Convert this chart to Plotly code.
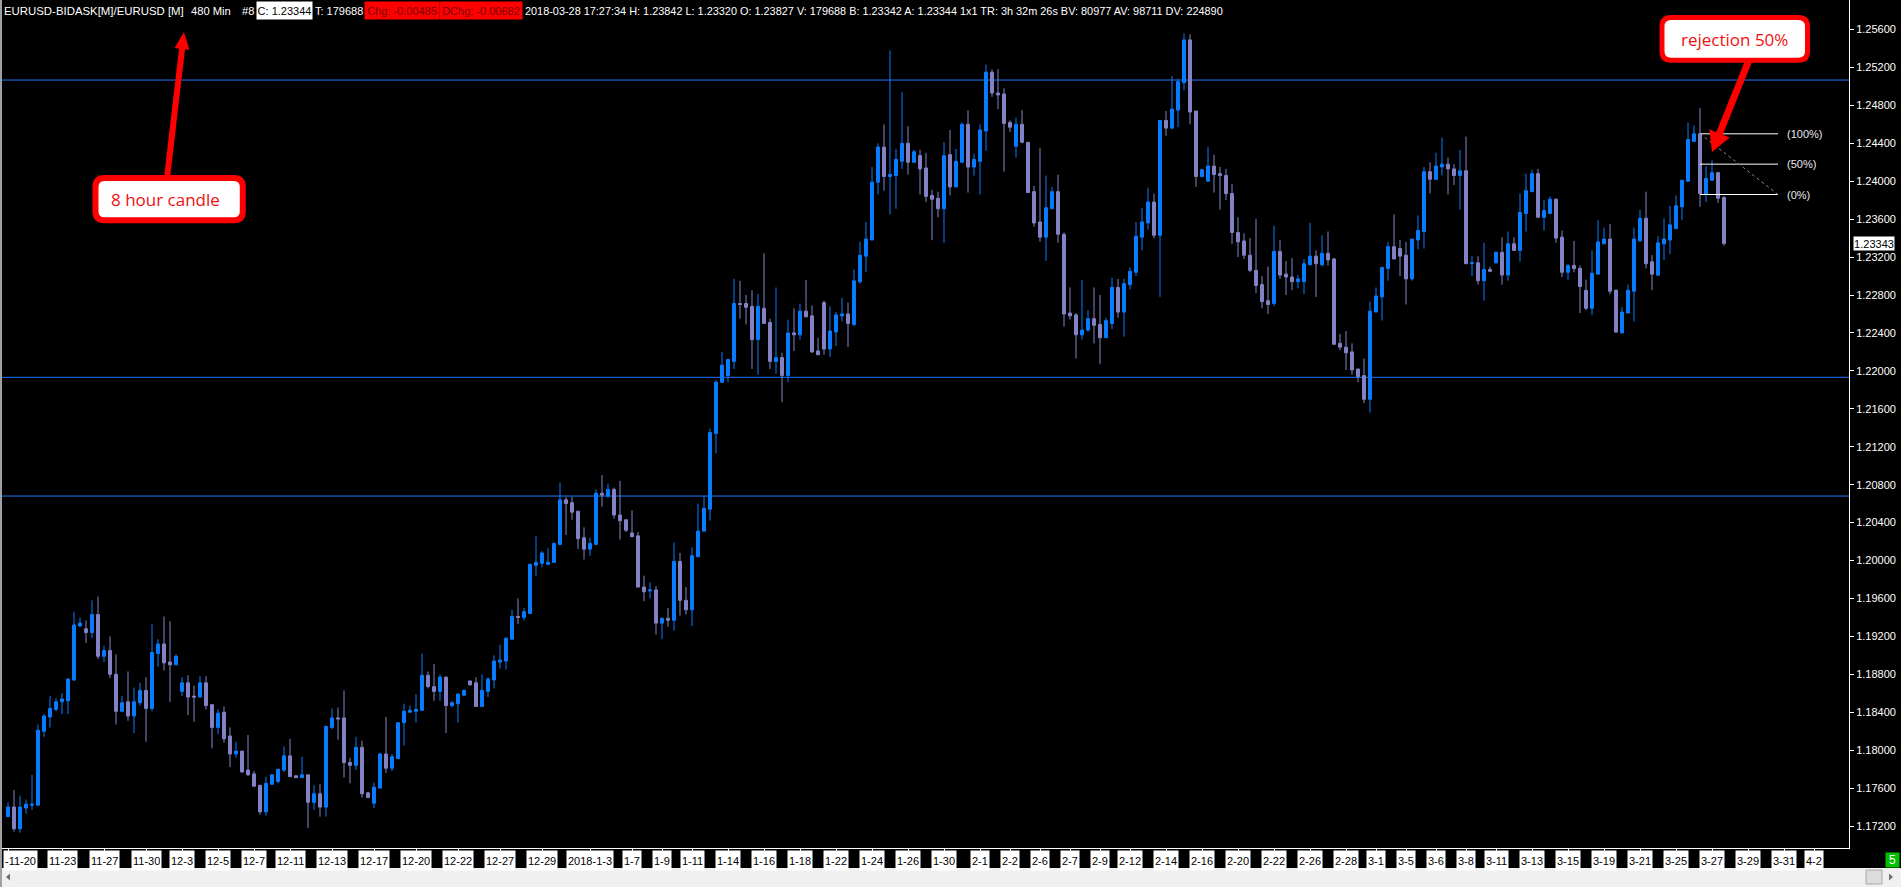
import math
import plotly.graph_objects as go

# ---------------- data (EURUSD 8-hour candles) ----------------
opens = [
    1.1730, 1.1740, 1.1717, 1.1739, 1.1742, 1.1742, 1.1820, 1.1835, 1.1843, 1.1851,
    1.1852, 1.1874, 1.1931, 1.1928, 1.1924, 1.1943, 1.1899, 1.1905, 1.1880, 1.1841,
    1.1851, 1.1836, 1.1850, 1.1863, 1.1844, 1.1902, 1.1912, 1.1893, 1.1890, 1.1862,
    1.1871, 1.1857, 1.1856, 1.1871, 1.1848, 1.1824, 1.1840, 1.1815, 1.1796, 1.1799,
    1.1779, 1.1775, 1.1763, 1.1735, 1.1764, 1.1767, 1.1779, 1.1794, 1.1773, 1.1771,
    1.1774, 1.1745, 1.1754, 1.1740, 1.1824, 1.1834, 1.1834, 1.1787, 1.1784, 1.1803,
    1.1755, 1.1744, 1.1760, 1.1796, 1.1781, 1.1791, 1.1829, 1.1840, 1.1841, 1.1842,
    1.1879, 1.1867, 1.1862, 1.1877, 1.1847, 1.1849, 1.1858, 1.1873, 1.1871, 1.1846,
    1.1862, 1.1874, 1.1893, 1.1894, 1.1917, 1.1941, 1.1940, 1.1944, 1.1995, 1.1997,
    1.1996, 1.1998, 1.2017, 1.2064, 1.2061, 1.2052, 1.2024, 1.2012, 1.2017, 1.2071,
    1.2068, 1.2075, 1.2048, 1.2043, 1.2029, 1.2026, 1.1972, 1.1968, 1.1969, 1.1934,
    1.1939, 1.1937, 1.1999, 1.1958, 1.1948, 1.2004, 1.2031, 1.2054, 1.2134, 1.2188,
    1.2195, 1.2210, 1.2271, 1.2271, 1.2268, 1.2233, 1.2266, 1.2251, 1.2210, 1.2214,
    1.2195, 1.2240, 1.2238, 1.2263, 1.2258, 1.2221, 1.2272, 1.2223, 1.2241, 1.2258,
    1.2260, 1.2249, 1.2294, 1.2321, 1.2338, 1.2399, 1.2436, 1.2405, 1.2406, 1.2421,
    1.2440, 1.2420, 1.2427, 1.2414, 1.2385, 1.2382, 1.2371, 1.2428, 1.2394, 1.2420,
    1.2460, 1.2415, 1.2421, 1.2453, 1.2515, 1.2493, 1.2492, 1.2462, 1.2437, 1.2460,
    1.2441, 1.2389, 1.2357, 1.2341, 1.2371, 1.2389, 1.2344, 1.2261, 1.2259, 1.2238,
    1.2243, 1.2255, 1.2249, 1.2235, 1.2250, 1.2288, 1.2262, 1.2291, 1.2304, 1.2341,
    1.2356, 1.2378, 1.2343, 1.2464, 1.2456, 1.2475, 1.2504, 1.2549, 1.2474, 1.2405,
    1.2400, 1.2416, 1.2408, 1.2406, 1.2387, 1.2346, 1.2337, 1.2322, 1.2306, 1.2291,
    1.2274, 1.2271, 1.2326, 1.2302, 1.2299, 1.2294, 1.2294, 1.2312, 1.2321, 1.2312,
    1.2324, 1.2318, 1.2229, 1.2225, 1.2220, 1.2202, 1.2195, 1.2170, 1.2262, 1.2278,
    1.2308, 1.2331, 1.2329, 1.2322, 1.2297, 1.2338, 1.2347, 1.2410, 1.2402, 1.2415,
    1.2418, 1.2413, 1.2406, 1.2411, 1.2313, 1.2314, 1.2295, 1.2307, 1.2314, 1.2325,
    1.2301, 1.2334, 1.2327, 1.2366, 1.2389, 1.2408, 1.2362, 1.2366, 1.2381, 1.2341,
    1.2304, 1.2311, 1.2308, 1.2285, 1.2266, 1.2302, 1.2334, 1.2339, 1.2285, 1.2240,
    1.2261, 1.2284, 1.2337, 1.2361, 1.2315, 1.2301, 1.2334, 1.2338, 1.2350, 1.2373,
    1.2400, 1.2442, 1.2450, 1.2386, 1.2401, 1.2409, 1.23827,
]
highs = [
    1.1745, 1.1758, 1.1752, 1.1748, 1.1774, 1.1827, 1.1838, 1.1857, 1.1855, 1.1860,
    1.1876, 1.1946, 1.1940, 1.1937, 1.1958, 1.1962, 1.1910, 1.1920, 1.1901, 1.1857,
    1.1883, 1.1866, 1.1871, 1.1877, 1.1933, 1.1917, 1.1941, 1.1936, 1.1901, 1.1877,
    1.1879, 1.1868, 1.1878, 1.1878, 1.1848, 1.1843, 1.1846, 1.1824, 1.1809, 1.1799,
    1.1816, 1.1778, 1.1763, 1.1772, 1.1774, 1.1780, 1.1804, 1.1812, 1.1773, 1.1793,
    1.1774, 1.1763, 1.1764, 1.1826, 1.1844, 1.1845, 1.1863, 1.1792, 1.1814, 1.1810,
    1.1756, 1.1766, 1.1797, 1.1835, 1.1796, 1.1829, 1.1849, 1.1847, 1.1859, 1.1902,
    1.1883, 1.1891, 1.1880, 1.1878, 1.1852, 1.1860, 1.1864, 1.1873, 1.1877, 1.1880,
    1.1877, 1.1900, 1.1911, 1.1919, 1.1948, 1.1960, 1.1950, 1.1996, 1.2026, 1.2010,
    1.2013, 1.2019, 1.2082, 1.2067, 1.2067, 1.2052, 1.2035, 1.2024, 1.2075, 1.2090,
    1.2081, 1.2077, 1.2084, 1.2043, 1.2053, 1.2030, 1.1984, 1.1977, 1.1973, 1.1940,
    1.1950, 1.2019, 1.2008, 1.1972, 1.2014, 1.2060, 1.2068, 1.2139, 1.2190, 1.2220,
    1.2213, 1.2297, 1.2295, 1.2280, 1.2285, 1.2281, 1.2324, 1.2255, 1.2288, 1.2219,
    1.2254, 1.2266, 1.2271, 1.2296, 1.2269, 1.2235, 1.2274, 1.2268, 1.2262, 1.2277,
    1.2272, 1.2307, 1.2336, 1.2357, 1.2415, 1.2440, 1.2460, 1.2538, 1.2434, 1.2494,
    1.2458, 1.2433, 1.2433, 1.2430, 1.2391, 1.2389, 1.2441, 1.2454, 1.2434, 1.2462,
    1.2475, 1.2429, 1.2460, 1.2523, 1.2518, 1.2518, 1.2498, 1.2464, 1.2467, 1.2475,
    1.2441, 1.2395, 1.2435, 1.2406, 1.2394, 1.2407, 1.2346, 1.2288, 1.2261, 1.2296,
    1.2264, 1.2288, 1.2280, 1.2256, 1.2298, 1.2297, 1.2297, 1.2309, 1.2357, 1.2372,
    1.2393, 1.2387, 1.2465, 1.2474, 1.2511, 1.2508, 1.2556, 1.2555, 1.2474, 1.2413,
    1.2436, 1.2428, 1.2415, 1.2413, 1.2397, 1.2362, 1.2345, 1.2340, 1.2360, 1.2300,
    1.2310, 1.2353, 1.2338, 1.2316, 1.2319, 1.2301, 1.2318, 1.2356, 1.2327, 1.2343,
    1.2347, 1.2319, 1.2239, 1.2242, 1.2229, 1.2202, 1.2213, 1.2273, 1.2288, 1.2310,
    1.2336, 1.2365, 1.2338, 1.2336, 1.2339, 1.2364, 1.2415, 1.2420, 1.2430, 1.2446,
    1.2425, 1.2418, 1.2433, 1.2447, 1.2321, 1.2321, 1.2335, 1.2310, 1.2326, 1.2341,
    1.2347, 1.2341, 1.2387, 1.2408, 1.2412, 1.2413, 1.2380, 1.2384, 1.2382, 1.2348,
    1.2313, 1.2337, 1.2311, 1.2296, 1.2327, 1.2359, 1.2351, 1.2355, 1.2286, 1.2267,
    1.2291, 1.2351, 1.2370, 1.2389, 1.2322, 1.2342, 1.2361, 1.2374, 1.2385, 1.2401,
    1.2462, 1.2459, 1.2477, 1.2416, 1.2422, 1.2410, 1.23842,
]
lows = [
    1.1729, 1.1714, 1.1713, 1.1733, 1.1737, 1.1741, 1.1814, 1.1824, 1.1841, 1.1838,
    1.1838, 1.1873, 1.1930, 1.1913, 1.1918, 1.1896, 1.1893, 1.1876, 1.1827, 1.1840,
    1.1831, 1.1818, 1.1847, 1.1809, 1.1841, 1.1888, 1.1884, 1.1851, 1.1890, 1.1857,
    1.1837, 1.1830, 1.1856, 1.1843, 1.1802, 1.1817, 1.1808, 1.1782, 1.1792, 1.1776,
    1.1773, 1.1761, 1.1732, 1.1731, 1.1764, 1.1765, 1.1777, 1.1772, 1.1771, 1.1771,
    1.1718, 1.1737, 1.1730, 1.1730, 1.1822, 1.1811, 1.1771, 1.1765, 1.1779, 1.1750,
    1.1750, 1.1739, 1.1760, 1.1776, 1.1778, 1.1791, 1.1805, 1.1840, 1.1829, 1.1842,
    1.1865, 1.1852, 1.1852, 1.1818, 1.1845, 1.1829, 1.1857, 1.1868, 1.1846, 1.1846,
    1.1856, 1.1865, 1.1886, 1.1885, 1.1917, 1.1933, 1.1937, 1.1944, 1.1984, 1.1993,
    1.1996, 1.1998, 1.2016, 1.2027, 1.2043, 1.2012, 1.2001, 1.2005, 1.2016, 1.2057,
    1.2066, 1.2044, 1.2022, 1.2030, 1.2025, 1.1972, 1.1957, 1.1960, 1.1922, 1.1917,
    1.1930, 1.1926, 1.1942, 1.1943, 1.1931, 1.2004, 1.2030, 1.2042, 1.2113, 1.2188,
    1.2188, 1.2202, 1.2255, 1.2249, 1.2202, 1.2196, 1.2250, 1.2202, 1.2197, 1.2167,
    1.2188, 1.2221, 1.2233, 1.2257, 1.2219, 1.2217, 1.2217, 1.2215, 1.2226, 1.2252,
    1.2225, 1.2247, 1.2292, 1.2304, 1.2338, 1.2386, 1.2390, 1.2365, 1.2371, 1.2413,
    1.2407, 1.2419, 1.2386, 1.2378, 1.2338, 1.2362, 1.2335, 1.2385, 1.2394, 1.2419,
    1.2388, 1.2406, 1.2386, 1.2432, 1.2489, 1.2476, 1.2410, 1.2452, 1.2425, 1.2440,
    1.2388, 1.2352, 1.2336, 1.2316, 1.2371, 1.2335, 1.2247, 1.2254, 1.2213, 1.2233,
    1.2241, 1.2229, 1.2207, 1.2235, 1.2244, 1.2256, 1.2236, 1.2286, 1.2300, 1.2327,
    1.2349, 1.2340, 1.2278, 1.2448, 1.2455, 1.2457, 1.2496, 1.2460, 1.2394, 1.2404,
    1.2400, 1.2388, 1.2370, 1.2380, 1.2334, 1.2320, 1.2318, 1.2304, 1.2282, 1.2266,
    1.2260, 1.2268, 1.2297, 1.2280, 1.2285, 1.2287, 1.2281, 1.2311, 1.2278, 1.2310,
    1.2311, 1.2228, 1.2222, 1.2201, 1.2196, 1.2188, 1.2166, 1.2156, 1.2262, 1.2253,
    1.2295, 1.2318, 1.2300, 1.2270, 1.2295, 1.2328, 1.2329, 1.2387, 1.2402, 1.2406,
    1.2386, 1.2396, 1.2370, 1.2313, 1.2300, 1.2291, 1.2274, 1.2304, 1.2313, 1.2291,
    1.2295, 1.2327, 1.2315, 1.2347, 1.2389, 1.2361, 1.2348, 1.2365, 1.2335, 1.2299,
    1.2296, 1.2304, 1.2261, 1.2264, 1.2259, 1.2302, 1.2334, 1.2281, 1.2240, 1.2240,
    1.2261, 1.2252, 1.2337, 1.2308, 1.2285, 1.2300, 1.2317, 1.2323, 1.2350, 1.2359,
    1.2400, 1.2442, 1.2373, 1.2378, 1.2401, 1.2377, 1.23320,
]
closes = [
    1.1740, 1.1717, 1.1740, 1.1743, 1.1743, 1.1821, 1.1836, 1.1844, 1.1851, 1.1854,
    1.1875, 1.1932, 1.1934, 1.1924, 1.1943, 1.1899, 1.1905, 1.1880, 1.1841, 1.1850,
    1.1836, 1.1851, 1.1863, 1.1844, 1.1903, 1.1912, 1.1892, 1.1890, 1.1899, 1.1871,
    1.1856, 1.1856, 1.1871, 1.1847, 1.1824, 1.1839, 1.1812, 1.1796, 1.1799, 1.1777,
    1.1774, 1.1762, 1.1735, 1.1765, 1.1774, 1.1780, 1.1794, 1.1772, 1.1771, 1.1774,
    1.1745, 1.1754, 1.1740, 1.1825, 1.1834, 1.1833, 1.1787, 1.1784, 1.1803, 1.1754,
    1.1750, 1.1761, 1.1796, 1.1781, 1.1793, 1.1829, 1.1841, 1.1842, 1.1843, 1.1879,
    1.1867, 1.1862, 1.1877, 1.1847, 1.1850, 1.1859, 1.1863, 1.1869, 1.1846, 1.1863,
    1.1875, 1.1894, 1.1895, 1.1918, 1.1941, 1.1940, 1.1946, 1.1996, 1.1998, 1.2008,
    1.1998, 1.2018, 1.2064, 1.2060, 1.2051, 1.2023, 1.2012, 1.2018, 1.2071, 1.2069,
    1.2075, 1.2048, 1.2042, 1.2032, 1.2025, 1.1972, 1.1967, 1.1969, 1.1934, 1.1939,
    1.1937, 1.1999, 1.1958, 1.1948, 1.2005, 1.2031, 1.2055, 1.2135, 1.2188, 1.2206,
    1.2212, 1.2271, 1.2270, 1.2267, 1.2233, 1.2268, 1.2250, 1.2210, 1.2214, 1.2195,
    1.2240, 1.2238, 1.2263, 1.2257, 1.2220, 1.2217, 1.2223, 1.2242, 1.2259, 1.2260,
    1.2250, 1.2295, 1.2322, 1.2339, 1.2399, 1.2436, 1.2405, 1.2407, 1.2423, 1.2440,
    1.2420, 1.2431, 1.2413, 1.2384, 1.2381, 1.2371, 1.2427, 1.2394, 1.2421, 1.2460,
    1.2415, 1.2423, 1.2454, 1.2515, 1.2493, 1.2491, 1.2461, 1.2457, 1.2460, 1.2441,
    1.2388, 1.2356, 1.2341, 1.2372, 1.2389, 1.2344, 1.2260, 1.2258, 1.2238, 1.2243,
    1.2255, 1.2248, 1.2235, 1.2253, 1.2288, 1.2262, 1.2292, 1.2305, 1.2342, 1.2357,
    1.2378, 1.2343, 1.2464, 1.2456, 1.2476, 1.2505, 1.2549, 1.2473, 1.2405, 1.2412,
    1.2416, 1.2407, 1.2406, 1.2387, 1.2346, 1.2336, 1.2322, 1.2306, 1.2290, 1.2273,
    1.2270, 1.2326, 1.2301, 1.2299, 1.2294, 1.2297, 1.2313, 1.2321, 1.2313, 1.2324,
    1.2317, 1.2228, 1.2225, 1.2219, 1.2201, 1.2194, 1.2170, 1.2263, 1.2279, 1.2309,
    1.2331, 1.2318, 1.2321, 1.2297, 1.2339, 1.2348, 1.2410, 1.2402, 1.2416, 1.2418,
    1.2413, 1.2406, 1.2411, 1.2313, 1.2314, 1.2295, 1.2307, 1.2305, 1.2325, 1.2301,
    1.2334, 1.2327, 1.2367, 1.2390, 1.2408, 1.2362, 1.2369, 1.2381, 1.2340, 1.2304,
    1.2311, 1.2308, 1.2289, 1.2266, 1.2303, 1.2336, 1.2339, 1.2284, 1.2241, 1.2262,
    1.2285, 1.2339, 1.2361, 1.2313, 1.2302, 1.2335, 1.2339, 1.2354, 1.2374, 1.2401,
    1.2444, 1.2450, 1.2387, 1.2403, 1.2409, 1.2382, 1.23344,
]
candle_no = list(range(1, len(opens) + 1))

# the first label is shown clipped by the window edge in the reference ("-11-20")
date_labels = ["-11-20", "11-23", "11-27", "11-30", "12-3", "12-5", "12-7", "12-11",
               "12-13", "12-17", "12-20", "12-22", "12-27", "12-29", "2018-1-3", "1-7",
               "1-9", "1-11", "1-14", "1-16", "1-18", "1-22", "1-24", "1-26", "1-30",
               "2-1", "2-2", "2-6", "2-7", "2-9", "2-12", "2-14", "2-16", "2-20", "2-22",
               "2-26", "2-28", "3-1", "3-5", "3-6", "3-8", "3-11", "3-13", "3-15", "3-19",
               "3-21", "3-25", "3-27", "3-29", "3-31", "4-2"]
date_pos = [1, 10, 17, 24, 30, 36, 42, 48, 55, 62, 69, 76, 83, 90, 98, 105,
            110, 115, 121, 127, 133, 139, 145, 151, 157,
            163, 168, 173, 178, 183, 188, 194, 200, 206, 212,
            218, 224, 229, 234, 239, 244, 249, 255, 261, 267,
            273, 279, 285, 291, 297, 302]

price_ticks = [1.172, 1.176, 1.180, 1.184, 1.188, 1.192, 1.196, 1.200, 1.204, 1.208, 1.212,
               1.216, 1.220, 1.224, 1.228, 1.232, 1.236, 1.240, 1.244, 1.248, 1.252, 1.256]

levels = [1.25067, 1.21932, 1.20680]
fib_prices = [1.2450, 1.2418, 1.2386]
fib_texts = ["(100%)", "(50%)", "(0%)"]
fib_start, fib_end = 283, 296
last_price = 1.23343

header_text = ("2018-03-28 17:27:34 H: 1.23842 L: 1.23320 O: 1.23827 V: 179688 B: 1.23342 "
               "A: 1.23344 1x1 TR: 3h 32m 26s BV: 80977 AV: 98711 DV: 224890")

# ---------------- layout helpers ----------------
W, H = 1901, 887
PW, PH = 1849, 848
FONT = "Liberation Sans, Arial, sans-serif"
UP = "#0a7cff"
DOWN = "#8383c6"
LEVEL = "#1f74ff"
RED = "#ff0000"


def xp(px):
    return px / PW


def yp(py):
    return 1 - py / PH


def P(x, y):
    return f"{xp(x):.6f},{yp(y):.6f}"


def rrect_path(x0, y0, x1, y1, r):
    return ("M " + P(x0 + r, y0) + " L " + P(x1 - r, y0) + " Q " + P(x1, y0) + " " + P(x1, y0 + r) +
            " L " + P(x1, y1 - r) + " Q " + P(x1, y1) + " " + P(x1 - r, y1) +
            " L " + P(x0 + r, y1) + " Q " + P(x0, y1) + " " + P(x0, y1 - r) +
            " L " + P(x0, y0 + r) + " Q " + P(x0, y0) + " " + P(x0 + r, y0) + " Z")


def arrow_path(x0, y0, x1, y1, sw, hl, hw):
    dx, dy = x1 - x0, y1 - y0
    L = math.hypot(dx, dy)
    ux, uy = dx / L, dy / L
    nx, ny = -uy, ux
    bx, by = x1 - ux * hl, y1 - uy * hl
    pts = [(x0 + nx * sw / 2, y0 + ny * sw / 2), (bx + nx * sw / 2, by + ny * sw / 2),
           (bx + nx * hw / 2, by + ny * hw / 2), (x1, y1),
           (bx - nx * hw / 2, by - ny * hw / 2), (bx - nx * sw / 2, by - ny * sw / 2),
           (x0 - nx * sw / 2, y0 - ny * sw / 2)]
    return "M " + " L ".join(P(a, b) for a, b in pts) + " Z"


def poly(pts):
    return "M " + " L ".join(P(a, b) for a, b in pts) + " Z"


fig = go.Figure(go.Candlestick(
    x=candle_no, open=opens, high=highs, low=lows, close=closes,
    increasing=dict(line=dict(color=UP, width=1), fillcolor=UP),
    decreasing=dict(line=dict(color=DOWN, width=1), fillcolor=DOWN),
    whiskerwidth=0, hoverinfo="skip", showlegend=False))

shapes = []
for lv in levels:
    shapes.append(dict(type="line", xref="paper", yref="y", x0=0, x1=1, y0=lv, y1=lv,
                       line=dict(color=LEVEL, width=1), layer="below"))
for lv in fib_prices:
    shapes.append(dict(type="line", xref="x", yref="y", x0=fib_start, x1=fib_end, y0=lv, y1=lv,
                       line=dict(color="white", width=1)))
shapes.append(dict(type="line", xref="x", yref="y", x0=fib_start, x1=fib_end,
                   y0=fib_prices[0], y1=fib_prices[-1], line=dict(color="#8c8c8c", width=1, dash="dot")))

# callout arrows and boxes
shapes.append(dict(type="path", xref="paper", yref="paper", path=arrow_path(1749, 60, 1712, 152, 7, 20, 22),
                   fillcolor=RED, line=dict(width=0)))
shapes.append(dict(type="path", xref="paper", yref="paper", path=arrow_path(167, 178, 184, 32, 6, 17, 15),
                   fillcolor=RED, line=dict(width=0)))
shapes.append(dict(type="path", xref="paper", yref="paper", path=rrect_path(1662, 17.5, 1807.5, 60.2, 9),
                   fillcolor="white", line=dict(color=RED, width=5)))
shapes.append(dict(type="path", xref="paper", yref="paper", path=rrect_path(95.5, 178, 242.8, 220.3, 9),
                   fillcolor="white", line=dict(color=RED, width=6)))

# window chrome: scrollbar, borders
shapes.append(dict(type="rect", xref="paper", yref="paper", x0=xp(0), x1=xp(W), y0=yp(868), y1=yp(H),
                   fillcolor="#f0f0f0", line=dict(width=0)))
shapes.append(dict(type="rect", xref="paper", yref="paper", x0=xp(1866), x1=xp(1882), y0=yp(870), y1=yp(884),
                   fillcolor="#dcdcdc", line=dict(color="#a8a8a8", width=1)))
shapes.append(dict(type="path", xref="paper", yref="paper", path=poly([(6, 877), (10, 873.5), (10, 880.5)]),
                   fillcolor="#707070", line=dict(width=0)))
shapes.append(dict(type="path", xref="paper", yref="paper", path=poly([(1893, 877), (1889, 873.5), (1889, 880.5)]),
                   fillcolor="#707070", line=dict(width=0)))
shapes.append(dict(type="line", xref="paper", yref="paper", x0=xp(1), x1=xp(1), y0=yp(0), y1=yp(H),
                   line=dict(color="#a0a0a0", width=2)))

annotations = []
# callout texts
annotations.append(dict(xref="paper", yref="paper", x=xp(1734.5), y=yp(39), text="rejection 50%",
                        showarrow=False, font=dict(family="Open Sans, sans-serif", size=17, color="#f01010"),
                        xanchor="center", yanchor="middle"))
annotations.append(dict(xref="paper", yref="paper", x=xp(165), y=yp(199), text="8 hour candle",
                        showarrow=False, font=dict(family="Open Sans, sans-serif", size=17, color="#f01010"),
                        xanchor="center", yanchor="middle"))
# fib labels
for lv, t in zip(fib_prices, fib_texts):
    annotations.append(dict(xref="x", yref="y", x=fib_end + 1.3, y=lv, text=t, showarrow=False,
                            font=dict(family=FONT, size=11, color="#e8e8f0"), xanchor="left",
                            yanchor="middle", borderpad=0))
# last price marker
annotations.append(dict(xref="paper", yref="y", x=xp(1853), y=last_price, text=f"{last_price:.5f}",
                        showarrow=False, font=dict(family=FONT, size=11, color="black"), bgcolor="white",
                        xanchor="left", yanchor="middle", width=40, height=13, borderpad=0))
# date labels (first one sits at the clipped left edge)
for i, (pos, lab) in enumerate(zip(date_pos, date_labels)):
    if i == 0:
        annotations.append(dict(xref="paper", yref="paper", x=xp(3), y=yp(850), text=lab, showarrow=False,
                                font=dict(family=FONT, size=11, color="black"), bgcolor="white",
                                xanchor="left", yanchor="top", height=17, borderpad=1))
    else:
        annotations.append(dict(xref="x", yref="paper", x=pos, y=yp(850), text=lab, showarrow=False,
                                font=dict(family=FONT, size=11, color="black"), bgcolor="white",
                                xanchor="center", yanchor="top", height=17, borderpad=1))
# green counter
annotations.append(dict(xref="paper", yref="paper", x=xp(1885), y=yp(852), text="5", showarrow=False,
                        font=dict(family=FONT, size=12, color="white"), bgcolor="#00c000",
                        xanchor="left", yanchor="top", width=13, height=14, borderpad=0))
# header
hdr_y = yp(11)
plain = [("EURUSD-BIDASK[M]/EURUSD [M]", 3, 11.4), ("480 Min", 190, 11.2), ("#8", 241, 11.2),
         ("T: 179688", 314, 11), (header_text, 524, 10.9)]
for t, x, fs in plain:
    annotations.append(dict(xref="paper", yref="paper", x=xp(x), y=hdr_y, text=t, showarrow=False,
                            font=dict(family=FONT, size=fs, color="white"), xanchor="left",
                            yanchor="middle", borderpad=0))
boxed = [("C: 1.23344", 256, 55, "white", "black"),
         ("Chg: -0.00485", 364, 74, "#ff0000", "#7a0000"),
         ("DChg: -0.00682", 439, 82, "#ff0000", "#7a0000")]
for t, x, w, bg, fg in boxed:
    annotations.append(dict(xref="paper", yref="paper", x=xp(x), y=hdr_y, text=t, showarrow=False,
                            font=dict(family=FONT, size=11, color=fg), bgcolor=bg, xanchor="left",
                            yanchor="middle", width=w, height=17, borderpad=0))

fig.update_layout(
    width=W, height=H,
    margin=dict(l=0, r=W - PW, t=0, b=H - PH, pad=0),
    paper_bgcolor="black", plot_bgcolor="black",
    showlegend=False,
    shapes=shapes, annotations=annotations,
    xaxis=dict(range=[1 - 8 / 6, 1 + (PW - 8) / 6], showgrid=False, zeroline=False,
               rangeslider=dict(visible=False), tickvals=date_pos, ticks="outside", ticklen=3,
               tickcolor="white", showticklabels=False, showline=True, linecolor="white", linewidth=1),
    yaxis=dict(side="right", range=[1.169683, 1.259111], tickvals=price_ticks,
               ticktext=[f"{v:.5f}" for v in price_ticks], ticks="outside", ticklen=4,
               tickcolor="white", tickfont=dict(family=FONT, size=11, color="white"),
               showgrid=False, zeroline=False, showline=True, linecolor="white", linewidth=1),
)

fig.write_html("out.html", config={"displayModeBar": False},
               post_script="document.body.style.margin='0px';document.body.style.overflow='hidden';")
